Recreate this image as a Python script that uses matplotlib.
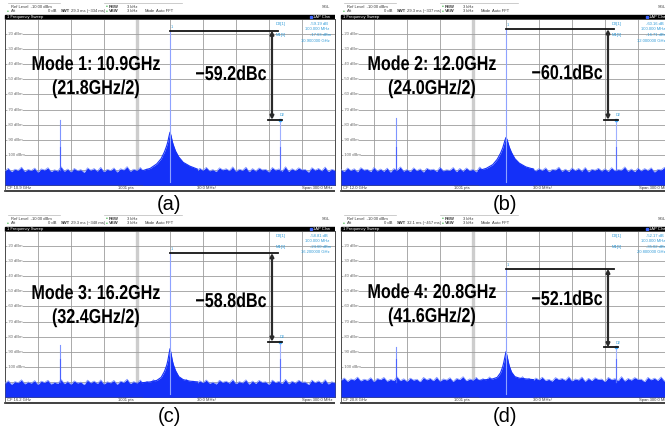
import numpy as np
import matplotlib.pyplot as plt
from matplotlib.patches import Rectangle
from matplotlib.patheffects import AbstractPathEffect
from matplotlib.transforms import Affine2D

plt.rcParams['font.family'] = ['Liberation Sans', 'DejaVu Sans']

# one entry per analyzer screen
panel_tags = ["(a)", "(b)", "(c)", "(d)"]
mode_titles = ["Mode 1: 10.9GHz", "Mode 2: 12.0GHz", "Mode 3: 16.2GHz", "Mode 4: 20.8GHz"]
mode_sources = ["(21.8GHz/2)", "(24.0GHz/2)", "(32.4GHz/2)", "(41.6GHz/2)"]
cf_text = ["10.9 GHz", "12.0 GHz", "16.2 GHz", "20.8 GHz"]
swt_text = ["29.3 ms (~334 ms)", "29.3 ms (~337 ms)", "29.3 ms (~348 ms)", "32.1 ms (~457 ms)"]
m1_dbm = [-17.63, -16.71, -24.60, -35.02]
m1_freq = ["10.900000 GHz", "12.000000 GHz", "16.200000 GHz", "20.800000 GHz"]
d2_db = [-59.19, -60.16, -58.81, -52.17]
dbc = [-59.2, -60.1, -58.8, -52.1]
spur_offset_mhz = 100.0
lower_spur_dbm = [-77.0, -75.8, -85.6, -87.0]

# carrier skirt, offset in MHz -> level in dBm
skirt_mhz = [-25, -18, -12, -8, -5, -3, -2, -1, 0, 1, 2, 3, 5, 8, 12, 18, 25]
skirt_dbm = [
    [-110.5, -109.0, -106.0, -102.5, -98.0, -94.0, -91.5, -88.0, -85.0,
     -87.5, -91.0, -93.5, -97.5, -101.5, -105.0, -107.5, -109.5],
    [-110.5, -109.0, -106.5, -103.0, -99.0, -95.5, -93.0, -90.5, -88.5,
     -90.0, -92.5, -95.0, -98.5, -102.5, -105.5, -108.0, -109.5],
    [-110.5, -110.0, -109.0, -107.0, -103.0, -99.0, -96.0, -92.0, -88.0,
     -91.5, -95.5, -98.5, -102.5, -106.5, -108.5, -109.5, -110.0],
    [-109.0, -108.5, -108.0, -107.0, -104.0, -100.0, -97.0, -93.5, -90.0,
     -93.0, -96.5, -99.5, -103.5, -106.5, -107.5, -108.0, -108.5],
]

# noise floor trace across the 300 MHz span (101 readings each)
noise_dbm = [
    [-110.6, -108.9, -111.2, -109.5, -110.3, -108.2, -111.0, -109.7, -110.4, -108.8,
     -111.5, -109.3, -110.1, -108.5, -111.1, -109.9, -110.7, -107.9, -110.9, -109.4,
     -111.3, -109.0, -110.5, -109.8, -111.7, -108.6, -110.2, -109.1, -110.8, -108.3,
     -111.2, -109.6, -110.4, -108.7, -111.4, -109.2, -110.0, -107.8, -110.9, -109.5,
     -110.3, -108.4, -111.0, -109.3, -110.6, -108.1, -110.8, -109.7, -110.2, -108.5,
     -110.1, -108.8, -111.1, -109.4, -110.5, -107.9, -110.7, -109.0, -111.3, -108.9,
     -110.2, -108.3, -110.6, -109.8, -111.1, -108.6, -110.0, -109.2, -110.5, -108.0,
     -110.9, -109.5, -110.3, -108.2, -111.2, -109.1, -110.7, -108.7, -110.0, -109.6,
     -111.4, -108.4, -110.1, -109.3, -110.8, -107.9, -111.0, -109.2, -110.4, -108.6,
     -109.9, -109.7, -111.5, -108.5, -110.2, -109.0, -110.6, -108.1, -111.1, -109.6,
     -110.3],
    [-109.8, -111.0, -108.7, -110.4, -109.2, -111.3, -108.5, -110.1, -109.6, -111.2,
     -108.3, -110.7, -109.4, -110.9, -108.8, -111.5, -109.1, -110.2, -108.0, -110.8,
     -109.7, -111.1, -108.6, -110.5, -109.3, -111.4, -108.9, -110.0, -109.5, -111.0,
     -108.2, -110.6, -109.9, -110.3, -108.4, -111.2, -109.0, -110.8, -108.7, -110.4,
     -109.6, -111.3, -108.1, -110.2, -109.4, -110.9, -108.8, -111.1, -109.2, -110.5,
     -108.5, -110.7, -109.8, -111.0, -108.3, -110.1, -109.3, -111.4, -108.9, -110.6,
     -109.1, -110.3, -108.6, -111.2, -109.7, -110.0, -108.2, -110.9, -109.5, -111.1,
     -108.7, -110.4, -109.0, -110.8, -108.4, -111.3, -109.6, -110.2, -108.9, -110.7,
     -109.2, -111.0, -108.5, -110.5, -109.8, -110.1, -108.0, -110.9, -109.4, -111.2,
     -108.8, -110.6, -109.1, -110.3, -108.6, -111.4, -109.7, -110.0, -108.3, -110.8,
     -109.5],
    [-110.9, -109.2, -111.6, -109.8, -110.5, -108.6, -111.3, -110.0, -110.8, -109.1,
     -111.7, -109.5, -110.4, -108.9, -111.4, -110.2, -111.0, -108.4, -111.2, -109.7,
     -111.5, -109.3, -110.7, -110.1, -111.8, -108.8, -110.6, -109.4, -111.1, -108.7,
     -111.4, -109.9, -110.6, -109.0, -111.6, -109.5, -110.3, -108.2, -111.1, -109.8,
     -110.7, -108.8, -111.3, -109.6, -110.9, -108.5, -111.0, -110.0, -110.5, -108.9,
     -110.4, -109.1, -111.3, -109.7, -110.8, -108.3, -111.0, -109.4, -111.5, -109.2,
     -110.5, -108.7, -110.9, -110.1, -111.4, -108.9, -110.3, -109.5, -110.8, -108.4,
     -111.2, -109.8, -110.6, -108.6, -111.5, -109.4, -111.0, -109.0, -110.3, -109.9,
     -111.7, -108.8, -110.4, -109.6, -111.1, -108.3, -111.3, -109.5, -110.7, -108.9,
     -110.2, -110.0, -111.8, -108.8, -110.5, -109.3, -110.9, -108.5, -111.4, -109.9,
     -110.6],
    [-108.9, -107.4, -109.6, -108.0, -108.7, -106.8, -109.3, -108.2, -108.9, -107.2,
     -109.8, -107.7, -108.5, -107.0, -109.5, -108.3, -109.1, -106.6, -109.2, -107.9,
     -109.6, -107.5, -108.8, -108.2, -109.9, -107.0, -108.6, -107.6, -109.2, -106.9,
     -109.5, -108.0, -108.7, -107.2, -109.7, -107.7, -108.4, -106.5, -109.2, -108.0,
     -108.8, -107.0, -109.4, -107.8, -109.0, -106.7, -109.1, -108.2, -108.6, -107.1,
     -108.5, -107.3, -109.4, -107.9, -108.9, -106.5, -109.1, -107.6, -109.6, -107.4,
     -108.6, -106.9, -109.0, -108.3, -109.5, -107.1, -108.4, -107.7, -108.9, -106.6,
     -109.3, -108.0, -108.7, -106.8, -109.6, -107.6, -109.1, -107.2, -108.4, -108.1,
     -109.8, -107.0, -108.5, -107.8, -109.2, -106.5, -109.4, -107.7, -108.8, -107.1,
     -108.3, -108.2, -109.9, -107.0, -108.6, -107.5, -109.0, -106.7, -109.5, -108.1,
     -108.7],
]


class Squeeze(AbstractPathEffect):
    """Draw text narrower about its own centre (condensed look)."""

    def __init__(self, sx):
        super().__init__()
        self.sx = sx

    def draw_path(self, renderer, gc, tpath, affine, rgbFace=None):
        ext = tpath.get_extents(affine)
        cx = 0.5 * (ext.x0 + ext.x1)
        aff = affine + Affine2D().translate(-cx, 0).scale(self.sx, 1).translate(cx, 0)
        renderer.draw_path(gc, tpath, aff, rgbFace)


FW, FH = 665.0, 430.0
fig = plt.figure(figsize=(FW / 100, FH / 100), dpi=100)


def px_axes(x, y, w, h):
    return fig.add_axes([x / FW, 1 - (y + h) / FH, w / FW, h / FH])


origins = [(0, 0), (336, 0), (0, 212), (336, 212)]
title_y = [(70, 94, 80), (70, 94, 79), (87, 111, 95), (86, 110, 93)]
BLUE = '#1430f8'
LIGHT = '#7d92ff'
MARK = '#2f9ad8'
big = dict(fontweight='bold', fontsize=14.5, ha='center', va='baseline', color='black',
           path_effects=[Squeeze(0.8)])

for i, (ox, oy) in enumerate(origins):
    # ---- instrument frame: header, sweep bar, footer
    fr = px_axes(ox, oy, 335, 193)
    fr.set_xlim(0, 335)
    fr.set_ylim(193, 0)
    fr.axis('off')
    small = dict(fontsize=3.0, color='#3a3a3a', va='center', clip_on=True)
    fr.plot([8, 60], [3.2, 3.2], color='#b8b8b8', lw=0.5)
    fr.plot([104, 182], [3.2, 3.2], color='#b8b8b8', lw=0.5)
    fr.text(11, 6.5, "Ref Level  -10.00 dBm", **small)
    fr.text(7, 11.3, "\u2022", fontsize=3.5, color='#2fae3c', va='center')
    fr.text(11, 11.3, "Att", **small)
    fr.text(57, 11.3, "0 dB", ha='right', **small)
    fr.text(61, 11.3, "SWT", fontweight='bold', **small)
    fr.text(71, 11.3, swt_text[i], **small)
    fr.text(106, 6.5, "\u2022", fontsize=3.5, color='#2fae3c', va='center')
    fr.text(109, 6.5, "RBW", fontweight='bold', **small)
    fr.text(127, 6.5, "3 kHz", **small)
    fr.text(106, 11.3, "\u2022", fontsize=3.5, color='#2fae3c', va='center')
    fr.text(109, 11.3, "VBW", fontweight='bold', **small)
    fr.text(127, 11.3, "3 kHz", **small)
    fr.text(145, 11.3, "Mode", **small)
    fr.text(156, 11.3, "Auto FFT", **small)
    fr.text(322, 6.5, "SGL", **small)
    fr.add_patch(Rectangle((5, 14.5), 330, 4.6, color='black', clip_on=True))
    fr.text(7, 16.8, "1 Frequency Sweep", fontsize=3.0, color='white', va='center')
    fr.add_patch(Rectangle((309.5, 15.8), 2.2, 2.2, color='#3a63ff'))
    fr.text(313, 16.8, "1AP Clrw", fontsize=3.0, color='white', va='center', clip_on=True)
    fr.plot([5, 335], [191.2, 191.2], color='#202020', lw=1.2, clip_on=True)
    fr.plot([5, 5], [185, 191], color='#505050', lw=0.6)
    fr.text(7, 188.2, "CF " + cf_text[i], **small)
    fr.text(118, 188.2, "1001 pts", **small)
    fr.text(197, 188.2, "30.0 MHz/", **small)
    fr.text(333, 188.2, "Span 300.0 MHz", ha='right', **small)

    # ---- trace area
    ax = px_axes(ox + 5, oy + 19, 330, 166)
    ax.set_xlim(-150, 150)
    ax.set_ylim(-120, -10)
    ax.set_xticks([])
    ax.set_yticks([])
    for s in ax.spines.values():
        s.set_color('#4a4a4a')
        s.set_linewidth(0.7)

    for f in range(-120, 121, 30):
        if f == -30:
            ax.axvline(f, color='#cdcdcd', lw=2.4, zorder=1)
        else:
            ax.axvline(f, color='#9c9c9c', lw=0.6, zorder=1)
    for lev in range(-110, -19, 10):
        ax.axhline(lev, color='#9c9c9c', lw=0.6, zorder=1)
        if lev >= -100:
            ax.text(-148, lev, "%d dBm" % lev, fontsize=3.0, color='#6a6a6a',
                    va='center', zorder=2,
                    bbox=dict(facecolor='white', edgecolor='none', pad=0.2))

    noise = noise_dbm[i]
    nx = np.linspace(-150, 150, len(noise))
    ax.fill_between(nx, -120, noise, color=BLUE, lw=0, zorder=3)
    ax.plot(nx, noise, color=LIGHT, lw=0.5, zorder=3)
    ax.fill_between(skirt_mhz, -120, skirt_dbm[i], color=BLUE, lw=0, zorder=4)
    ax.plot(skirt_mhz, skirt_dbm[i], color=BLUE, lw=0.8, zorder=4)

    carrier = m1_dbm[i]
    spur = carrier + dbc[i]
    ax.plot([0, 0], [-118, carrier], color='#8ea2ff', lw=0.8, zorder=5)
    ax.plot([spur_offset_mhz] * 2, [-110, spur], color='#9fb0ff', lw=0.8, zorder=5)
    ax.plot([spur_offset_mhz] * 2, [-110, -95], color='#5a70ff', lw=0.8, zorder=5)
    ax.plot([-spur_offset_mhz] * 2, [-110, lower_spur_dbm[i]], color='#7f95ff', lw=0.8, zorder=5)
    ax.plot([-spur_offset_mhz] * 2, [-110, -95], color='#4a62ff', lw=0.8, zorder=5)

    # markers
    ax.text(0.5, carrier + 1.2, "1", fontsize=2.8, color=MARK, va='bottom', zorder=6)
    ax.plot([spur_offset_mhz], [spur], marker='s', ms=1.6, color='#45b0ff', zorder=7)
    ax.text(spur_offset_mhz, spur + 1.6, "D2", fontsize=2.8, color=MARK, va='bottom', zorder=6)

    # delta annotation
    ax.plot([0, 98], [carrier, carrier], color='#141414', lw=1.3, zorder=8)
    ax.plot([89, 102], [spur, spur], color='#141414', lw=1.3, zorder=8)
    ax.annotate('', xy=(92.7, spur), xytext=(92.7, carrier),
                arrowprops=dict(arrowstyle='<|-|>', color='#2a2a2a', lw=1.6,
                                mutation_scale=5, shrinkA=0, shrinkB=0), zorder=8)

    # marker table
    def loc(lx, ly):
        return ((lx - 5) / 330.0, 1 - (ly - 19) / 166.0)

    tab = dict(fontsize=3.0, color=MARK, va='center', transform=ax.transAxes,
               clip_on=True, zorder=9)
    ax.text(*loc(276, 24), "D2[1]", **tab)
    ax.text(*loc(310, 24), "%.2f dB" % d2_db[i], **tab)
    ax.text(*loc(305, 29.5), "%.3f MHz" % spur_offset_mhz, **tab)
    ax.text(*loc(276, 35), "M1[1]", **tab)
    ax.text(*loc(310, 35), "%.2f dBm" % m1_dbm[i], **tab)
    ax.text(*loc(301, 40.5), m1_freq[i], **tab)

    # annotations
    ty1, ty2, ty3 = title_y[i]
    ax.text(*loc(96, ty1), mode_titles[i], transform=ax.transAxes, zorder=10, **big)
    ax.text(*loc(96, ty2), mode_sources[i], transform=ax.transAxes, zorder=10, **big)
    ax.text(*loc(231, ty3), "\u2212%.1fdBc" % abs(dbc[i]), transform=ax.transAxes,
            zorder=10, **big)

    fig.text((ox + 169) / FW, 1 - (oy + 204) / FH, panel_tags[i], fontsize=14.5,
             ha='center', va='center')

fig.savefig("out.png", dpi=100)
